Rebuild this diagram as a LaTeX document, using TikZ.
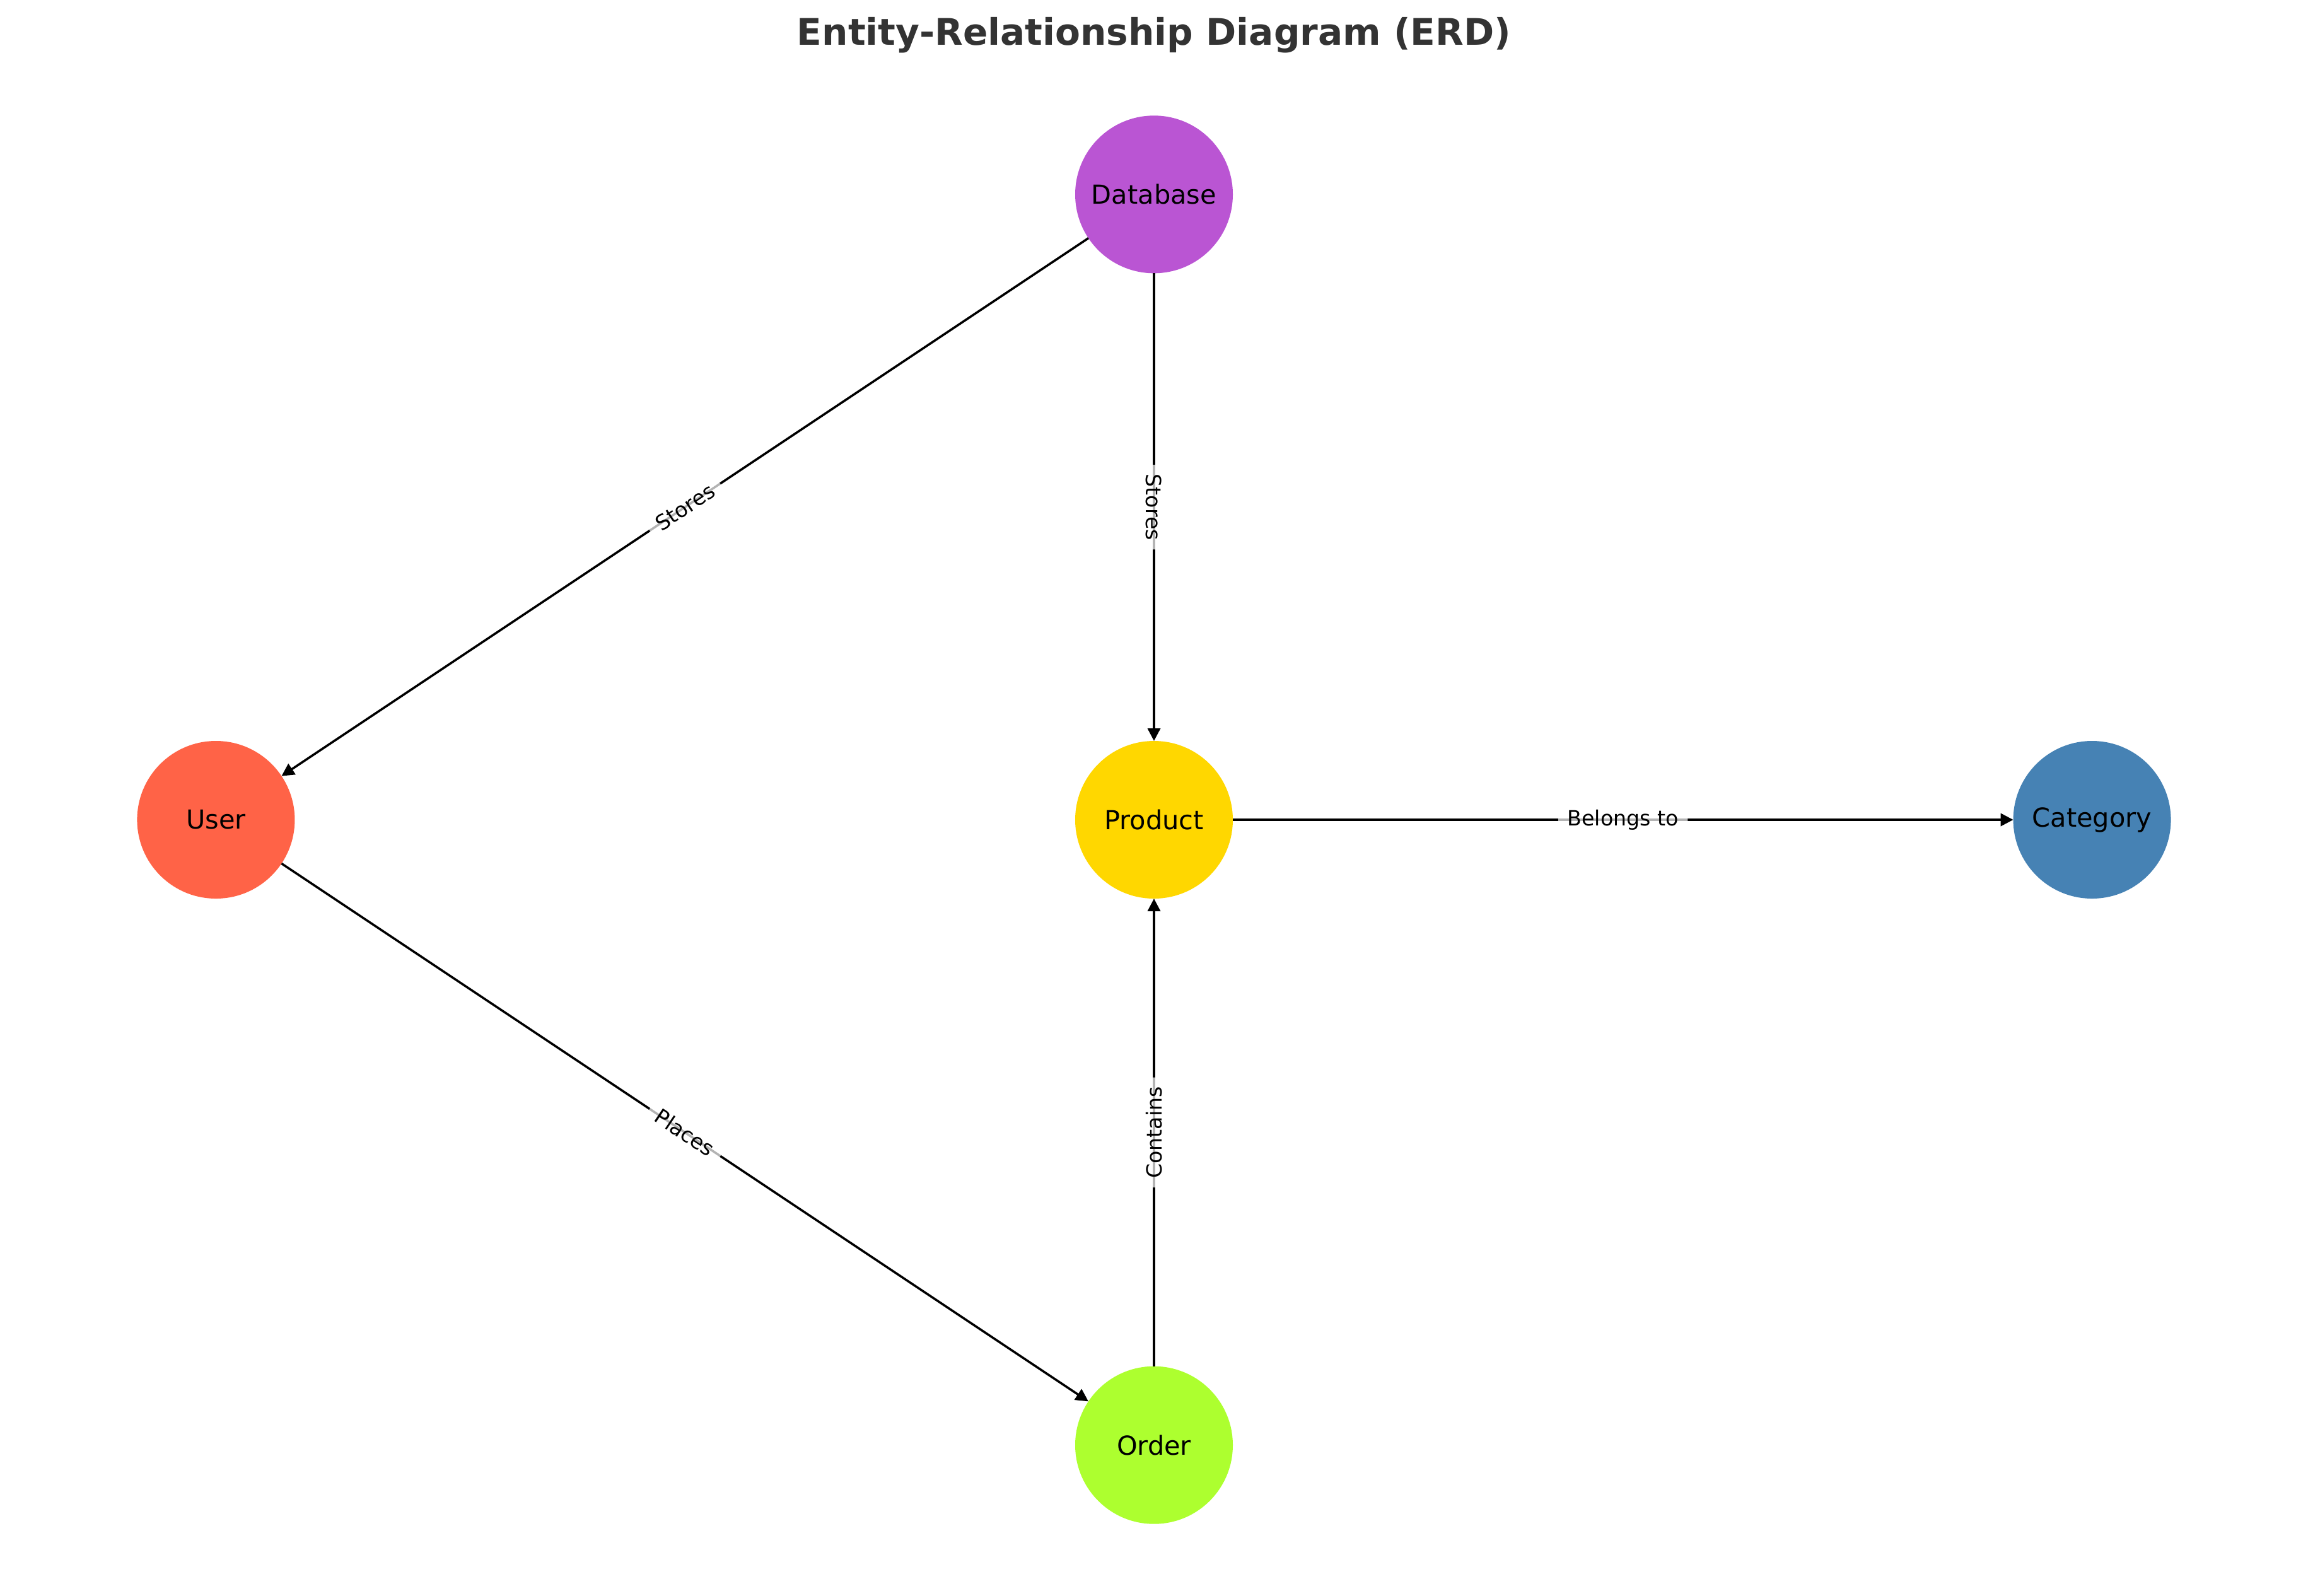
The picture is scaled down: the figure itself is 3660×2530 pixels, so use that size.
\documentclass[tikz,border=0pt]{standalone}
\usepackage{fontspec}
\setmainfont{DejaVu Sans}
\usepackage{xcolor}
\usetikzlibrary{arrows.meta,positioning}

\definecolor{dbpurple}{HTML}{BA55D3}
\definecolor{usertomato}{HTML}{FF6347}
\definecolor{prodgold}{HTML}{FFD700}
\definecolor{catblue}{HTML}{4682B4}
\definecolor{ordergreen}{HTML}{ADFF2F}
\definecolor{titlegray}{HTML}{333333}

\begin{document}
\begin{tikzpicture}[
  x=0.24bp,y=-0.24bp,
  font=\fontsize{10}{12}\selectfont,
  on grid,
  entity/.style={circle,minimum size=60bp,inner sep=0pt,outer sep=0pt},
  rel/.style={-{Triangle[length=4.8bp,width=4.8bp]},line width=0.85bp},
  lbl/.style={font=\fontsize{8}{9.6}\selectfont,fill=white,fill opacity=0.7,text opacity=1,rounded corners=2bp,inner sep=3.5bp,sloped}
]
\useasboundingbox (0,0) rectangle (3660,2530);
\node[font=\bfseries\fontsize{14}{16.8}\selectfont,text=titlegray] (title) at (1830,56) {Entity-Relationship Diagram (ERD)};
\node[entity,fill=prodgold] (product) at (1830,1300) {Product};
\node[entity,fill=dbpurple,above=238bp of product] (database) {Database};
\node[entity,fill=usertomato,left=357bp of product] (user) {User};
\node[entity,fill=catblue,right=357bp of product] (category) {Category};
\node[entity,fill=ordergreen,below=238bp of product] (order) {Order};
\draw[rel] (database) -- node[lbl] {Stores} (user);
\draw[rel] (database) -- node[lbl] {Stores} (product);
\draw[rel] (product) -- node[lbl] {Belongs to} (category);
\draw[rel] (user) -- node[lbl] {Places} (order);
\draw[rel] (order) -- node[lbl] {Contains} (product);
\end{tikzpicture}
\end{document}
